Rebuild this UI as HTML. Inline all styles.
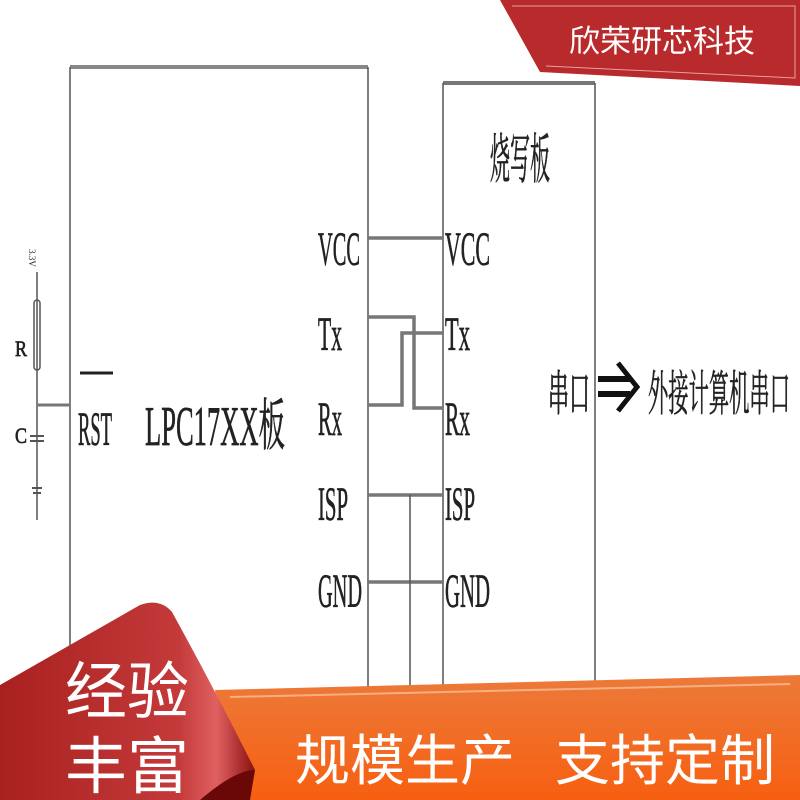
<!DOCTYPE html>
<html><head><meta charset="utf-8"><style>
html,body{margin:0;padding:0;background:#fff;}
svg{display:block;}
.s{font-family:"Liberation Serif","Noto Serif CJK SC",serif;fill:#222;stroke:#222;stroke-width:0.7;}
.c{font-family:"Liberation Sans","Noto Sans CJK SC",sans-serif;}
</style></head><body>
<svg width="800" height="800" viewBox="0 0 800 800" xmlns="http://www.w3.org/2000/svg">
<defs>
<linearGradient id="or" x1="0" y1="0" x2="0" y2="1"><stop offset="0" stop-color="#ec7a3a"/><stop offset="1" stop-color="#f75f10"/></linearGradient>
<linearGradient id="rd" x1="0" y1="0" x2="1" y2="0"><stop offset="0" stop-color="#a8201f"/><stop offset="0.7" stop-color="#c43a3a"/><stop offset="0.85" stop-color="#e06060"/><stop offset="1" stop-color="#8a1010"/></linearGradient>
</defs>
<polygon points="500,0 800,0 800,86 540,72" fill="#b82a2c"/>
<polyline points="512,6 795,6 795,78 546,66" fill="none" stroke="#e8a0a0" stroke-width="1"/>
<text x="662" y="52" text-anchor="middle" class="c" font-size="31" fill="#fff">欣荣研芯科技</text>
<g stroke="#555" fill="none">
<line x1="70" y1="67" x2="368" y2="67" stroke-width="4" stroke="#888"/>
<line x1="70" y1="67" x2="70" y2="700" stroke-width="1.5"/>
<line x1="368" y1="67" x2="368" y2="700" stroke-width="1.5"/>
<line x1="443" y1="83" x2="595" y2="83" stroke-width="4" stroke="#777"/>
<line x1="443" y1="83" x2="443" y2="700" stroke-width="1.5"/>
<line x1="595" y1="83" x2="595" y2="700" stroke-width="1.5"/>
<g stroke="#777" stroke-width="3.5">
<line x1="368" y1="238" x2="443" y2="238"/>
<polyline points="368,317 414,317 414,408 443,408"/>
<polyline points="368,405 402,405 402,333 443,333"/>
<line x1="368" y1="495" x2="443" y2="495"/>
<line x1="368" y1="582" x2="443" y2="582"/>
</g>
<line x1="410" y1="495" x2="410" y2="700" stroke-width="1.5"/>
<line x1="37" y1="272" x2="37" y2="520" stroke-width="1.5"/>
<rect x="34" y="300" width="6" height="70" rx="3" stroke-width="1.5"/>
<line x1="37" y1="405" x2="70" y2="405" stroke-width="3" stroke="#777"/>
<line x1="30" y1="436" x2="44" y2="436" stroke-width="2"/>
<line x1="30" y1="441" x2="44" y2="441" stroke-width="2"/>
<line x1="32" y1="488" x2="42" y2="488" stroke-width="2"/>
<line x1="33" y1="493" x2="41" y2="493" stroke-width="2"/>
<line x1="80" y1="373" x2="113" y2="373" stroke="#222" stroke-width="3"/>
</g>
<g class="s">
<text x="36" y="265" font-size="9" stroke-width="0" transform="rotate(90 36 258)" text-anchor="middle">3.3V</text>
<text x="15" y="356" font-size="22" textLength="12" lengthAdjust="spacingAndGlyphs">R</text>
<text x="15" y="443" font-size="22" textLength="12" lengthAdjust="spacingAndGlyphs">C</text>
<text x="78" y="445" font-size="48" textLength="34" lengthAdjust="spacingAndGlyphs">RST</text>
<text x="145" y="445" font-size="56" textLength="140" lengthAdjust="spacingAndGlyphs">LPC17XX板</text>
<text x="318" y="265" font-size="48" textLength="42" lengthAdjust="spacingAndGlyphs">VCC</text>
<text x="318" y="350" font-size="48" textLength="24" lengthAdjust="spacingAndGlyphs">Tx</text>
<text x="318" y="435" font-size="48" textLength="24" lengthAdjust="spacingAndGlyphs">Rx</text>
<text x="318" y="520" font-size="48" textLength="30" lengthAdjust="spacingAndGlyphs">ISP</text>
<text x="318" y="607" font-size="48" textLength="44" lengthAdjust="spacingAndGlyphs">GND</text>
<text x="445" y="265" font-size="48" textLength="45" lengthAdjust="spacingAndGlyphs">VCC</text>
<text x="445" y="350" font-size="48" textLength="25" lengthAdjust="spacingAndGlyphs">Tx</text>
<text x="445" y="435" font-size="48" textLength="25" lengthAdjust="spacingAndGlyphs">Rx</text>
<text x="445" y="520" font-size="48" textLength="30" lengthAdjust="spacingAndGlyphs">ISP</text>
<text x="445" y="607" font-size="48" textLength="45" lengthAdjust="spacingAndGlyphs">GND</text>
<text x="490" y="178" font-size="54" textLength="60" lengthAdjust="spacingAndGlyphs">烧写板</text>
<text x="548" y="410" font-size="48" textLength="42" lengthAdjust="spacingAndGlyphs">串口</text>
<text x="648" y="410" font-size="48" textLength="142" lengthAdjust="spacingAndGlyphs">外接计算机串口</text>
</g>
<g fill="none" stroke="#111" stroke-width="6">
<line x1="598" y1="379" x2="630" y2="379"/><line x1="598" y1="394" x2="630" y2="394"/>
<polyline points="618,363 637,387 618,411" stroke-width="5"/>
</g>
<polygon points="215,690 800,675 800,800 230,800" fill="url(#or)"/>
<line x1="230" y1="697" x2="790" y2="684" stroke="#f5b080" stroke-width="2"/>
<text x="295" y="780" class="c" font-size="55" fill="#fff" textLength="220" lengthAdjust="spacingAndGlyphs">规模生产</text>
<text x="555" y="780" class="c" font-size="55" fill="#fff" textLength="220" lengthAdjust="spacingAndGlyphs">支持定制</text>
<path d="M0,685 L140,605 Q160,598 172,612 Q215,690 255,770 L245,800 L0,800 Z" fill="url(#rd)"/>
<path d="M200,800 Q235,770 255,770 L250,800 Z" fill="#6a0808"/>
<text x="127" y="713" text-anchor="middle" class="c" font-size="62" fill="#fff">经验</text>
<text x="127" y="788" text-anchor="middle" class="c" font-size="62" fill="#fff">丰富</text>
</svg>
</body></html>
